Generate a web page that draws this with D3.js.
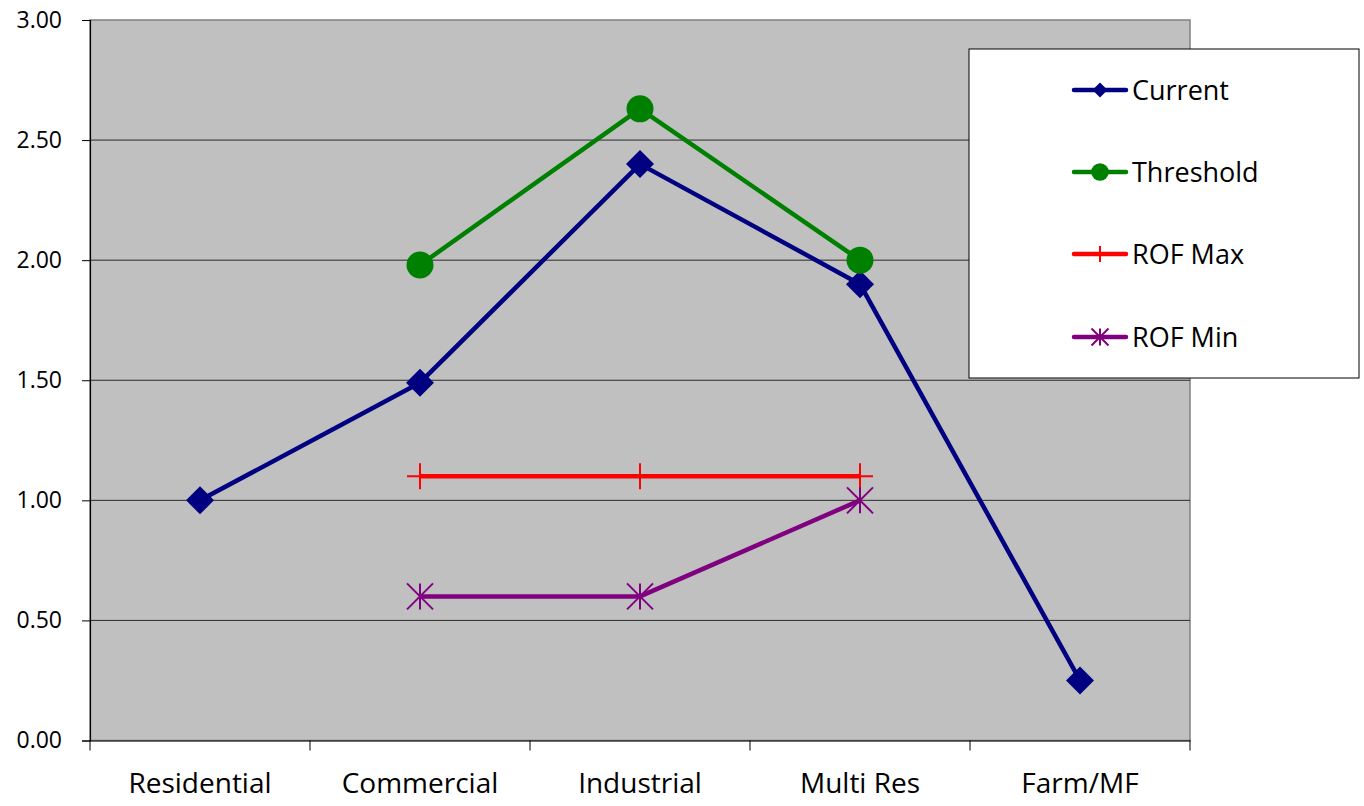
<!DOCTYPE html>
<html><head><meta charset="utf-8">
<script src="https://cdn.jsdelivr.net/npm/d3@7"></script>
<style>
html,body{margin:0;padding:0;background:#fff;}
text{font-family:"Open Sans",Lato,sans-serif;fill:#000;}
</style></head>
<body>
<svg id="chart" width="1364" height="806"></svg>
<script>
const categories = ["Residential","Commercial","Industrial","Multi Res","Farm/MF"];
const current   = [1.00, 1.49, 2.40, 1.90, 0.25];
const threshold = [null, 1.98, 2.63, 2.00, null];
const rofMax    = [null, 1.10, 1.10, 1.10, null];
const rofMin    = [null, 0.60, 0.60, 1.00, null];
const yTicks    = [0, 0.5, 1.0, 1.5, 2.0, 2.5, 3.0];
const seriesNames = ["Current","Threshold","ROF Max","ROF Min"];

const svg = d3.select("#chart");
const L = 90, R = 1190, T = 20, B = 740.5;
const x = d3.scaleBand().domain(categories).range([L, R]).paddingInner(0).paddingOuter(0);
const y = d3.scaleLinear().domain([0, 3]).range([B, T]);
const cx = c => x(c) + x.bandwidth()/2;

// plot background
svg.append("rect").attr("x", L).attr("y", T).attr("width", R-L).attr("height", B-T)
  .attr("fill", "#c0c0c0").attr("stroke", "#808080").attr("stroke-width", 1.5);

// gridlines
svg.append("g").selectAll("line").data(yTicks.filter(d => d > 0 && d < 3)).join("line")
  .attr("x1", L).attr("x2", R).attr("y1", d => y(d)).attr("y2", d => y(d))
  .attr("stroke", "#2a2a2a").attr("stroke-width", 1);

// y axis
const yAxis = svg.append("g").attr("transform", `translate(${L},0)`)
  .call(d3.axisLeft(y).tickValues(yTicks).tickFormat(d3.format(".2f")).tickSize(8).tickPadding(20));
yAxis.select(".domain").attr("stroke", "#000").attr("stroke-width", 1.2);
yAxis.selectAll(".tick line").attr("stroke", "#000");
yAxis.selectAll("text").style("font-size", "23px").style("font-family", "'Open Sans',Lato,sans-serif").attr("fill", "#000");

// x axis
const xAxis = svg.append("g").attr("transform", `translate(0,${B})`)
  .call(d3.axisBottom(x).tickSize(0).tickPadding(32.5));
xAxis.select(".domain").attr("stroke", "#000").attr("stroke-width", 1.2);
xAxis.selectAll("text").style("font-size", "28px").style("font-family", "'Open Sans',Lato,sans-serif").attr("fill", "#000");
// boundary ticks
svg.append("g").selectAll("line").data(categories.concat(["__end"])).join("line")
  .attr("x1", (d,i) => i < categories.length ? x(d) : R)
  .attr("x2", (d,i) => i < categories.length ? x(d) : R)
  .attr("y1", B).attr("y2", B + 10).attr("stroke", "#000").attr("stroke-width", 1);

const series = [
  {name: "Current", values: current, color: "#000080", marker: "diamond"},
  {name: "Threshold", values: threshold, color: "#008000", marker: "circle"},
  {name: "ROF Max", values: rofMax, color: "#ff0000", marker: "plus"},
  {name: "ROF Min", values: rofMin, color: "#800080", marker: "star"}
];

function drawMarker(g, type, px, py, color, s) {
  if (type === "diamond") {
    g.append("path").attr("d", `M${px},${py-s}L${px+s},${py}L${px},${py+s}L${px-s},${py}Z`).attr("fill", color);
  } else if (type === "circle") {
    g.append("circle").attr("cx", px).attr("cy", py).attr("r", s).attr("fill", color);
  } else if (type === "plus") {
    g.append("path").attr("d", `M${px-s},${py}H${px+s}M${px},${py-s}V${py+s}`)
      .attr("stroke", color).attr("stroke-width", 2).attr("fill", "none");
  } else if (type === "star") {
    g.append("path").attr("d", `M${px-s},${py-s}L${px+s},${py+s}M${px-s},${py+s}L${px+s},${py-s}M${px},${py-s}V${py+s}`)
      .attr("stroke", color).attr("stroke-width", 2).attr("fill", "none");
  }
}
const markerSize = {diamond: 14, circle: 13.5, plus: 13, star: 13};

series.forEach(s => {
  const pts = categories.map((c, i) => ({c, v: s.values[i]})).filter(p => p.v != null);
  const line = d3.line().x(p => cx(p.c)).y(p => y(p.v));
  const g = svg.append("g");
  g.append("path").datum(pts).attr("d", line).attr("fill", "none")
    .attr("stroke", s.color).attr("stroke-width", 4.5).attr("stroke-linejoin", "round");
  pts.forEach(p => drawMarker(g, s.marker, cx(p.c), y(p.v), s.color, markerSize[s.marker]));
});

// legend
const lg = svg.append("g");
lg.append("rect").attr("x", 969).attr("y", 49).attr("width", 390).attr("height", 329)
  .attr("fill", "#fff").attr("stroke", "#000").attr("stroke-width", 1);
const legendRows = [90, 172, 254, 337];
const legendMarker = {diamond: 7.5, circle: 8.8, plus: 8, star: 8.5};
series.forEach((s, i) => {
  const ly = legendRows[i];
  lg.append("line").attr("x1", 1074).attr("x2", 1126).attr("y1", ly).attr("y2", ly)
    .attr("stroke", s.color).attr("stroke-width", 4.5).attr("stroke-linecap", "round");
  drawMarker(lg, s.marker, 1100, ly, s.color, legendMarker[s.marker]);
  lg.append("text").attr("x", 1132).attr("y", ly).attr("dy", "0.36em")
    .style("font-size", "27px").text(seriesNames[i]);
});
</script>
</body></html>
